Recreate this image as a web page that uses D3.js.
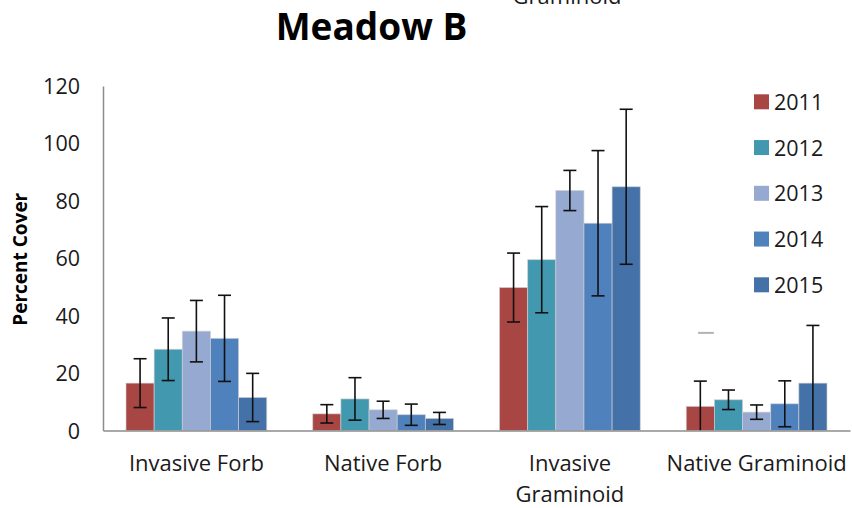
<!DOCTYPE html>
<html><head><meta charset="utf-8">
<script src="https://cdn.jsdelivr.net/npm/d3@7"></script>
<style>
body{margin:0;background:#fff}
svg text{font-family:"Open Sans",sans-serif;fill:#1a1a1a}
</style>
</head><body>
<svg id="chart" width="852" height="508"></svg>
<script>
// ---- data ----
const categories = ["Invasive Forb", "Native Forb", "Invasive Graminoid", "Native Graminoid"];
const categoryLines = [["Invasive Forb"], ["Native Forb"], ["Invasive", "Graminoid"], ["Native Graminoid"]];
const years = ["2011", "2012", "2013", "2014", "2015"];
const values2011 = [16.5, 5.8, 49.8, 8.4];
const values2012 = [28.3, 11.0, 59.5, 10.7];
const values2013 = [34.6, 7.2, 83.6, 6.4];
const values2014 = [32.1, 5.5, 72.2, 9.3];
const values2015 = [11.5, 4.2, 84.9, 16.5];
const errors2011 = [8.5, 3.2, 12.0, 8.8];
const errors2012 = [10.9, 7.4, 18.5, 3.4];
const errors2013 = [10.7, 3.0, 7.0, 2.5];
const errors2014 = [15.0, 3.7, 25.3, 8.0];
const errors2015 = [8.4, 2.1, 27.0, 20.1];
const yTicks = [0, 20, 40, 60, 80, 100, 120];
const strayMarks = [{category: "Native Graminoid", year: "2011", value: 34}];
const chartTitle = "Meadow B";
const headerFragment = "Graminoid";
const yTitle = "Percent Cover";

const colors = ["#A84644", "#4298AF", "#95A9D1", "#4F81BD", "#4472A8"];

(function () {
const allValues = [values2011, values2012, values2013, values2014, values2015];
const allErrors = [errors2011, errors2012, errors2013, errors2014, errors2015];
const rows = [];
categories.forEach((c, ci) => years.forEach((yr, yi) => rows.push({
  category: c, year: yr, value: allValues[yi][ci], error: allErrors[yi][ci]
})));

// ---- layout ----
const svg = d3.select("#chart");
const mLeft = 103, mRight = 850, mTop = 86, mBottom = 430.5;

const x0 = d3.scaleBand().domain(categories).range([mLeft, mRight]).padding(0);
const groupPad = 23;
const x1 = d3.scaleBand().domain(years).range([groupPad, x0.bandwidth() - groupPad]).padding(0);
const y = d3.scaleLinear().domain([0, 120]).range([mBottom, mTop]);
const color = d3.scaleOrdinal().domain(years).range(colors);

// header fragment (cut off at top, as in the source image)
svg.append("text").attr("x", 567).attr("y", 4).attr("text-anchor", "middle")
  .style("font-size", "22px").text(headerFragment);

// title
svg.append("text").attr("x", 371.5).attr("y", 39.5).attr("text-anchor", "middle")
  .style("font-size", "37px").style("font-weight", "700").style("fill", "#000")
  .text(chartTitle);

// y-axis title
svg.append("text")
  .attr("transform", `translate(26.5,${(mTop + mBottom) / 2 + 1}) rotate(-90)`)
  .attr("text-anchor", "middle")
  .style("font-size", "19px").style("font-weight", "700").style("fill", "#000")
  .text(yTitle);

// bars
svg.append("g").selectAll("rect").data(rows).join("rect")
  .attr("x", d => x0(d.category) + x1(d.year))
  .attr("y", d => y(d.value))
  .attr("width", x1.bandwidth())
  .attr("height", d => y(0) - y(d.value))
  .attr("fill", d => color(d.year))
  .attr("stroke", "#cfcfcf").attr("stroke-width", 0.8).attr("stroke-opacity", 0.8);

// error bars
const capHalf = 6.5;
const eg = svg.append("g").attr("stroke", "#111").attr("stroke-width", 1.6);
rows.forEach(d => {
  const cx = x0(d.category) + x1(d.year) + x1.bandwidth() / 2;
  const hi = d.value + d.error;
  const lo = Math.max(0, d.value - d.error);
  eg.append("line").attr("x1", cx).attr("x2", cx).attr("y1", y(hi)).attr("y2", y(lo));
  eg.append("line").attr("x1", cx - capHalf).attr("x2", cx + capHalf).attr("y1", y(hi)).attr("y2", y(hi));
  if (d.value - d.error >= 0) {
    eg.append("line").attr("x1", cx - capHalf).attr("x2", cx + capHalf).attr("y1", y(lo)).attr("y2", y(lo));
  }
});

// stray mark
svg.append("g").selectAll("line").data(strayMarks).join("line")
  .attr("x1", d => x0(d.category) + x1(d.year) + x1.bandwidth() * 0.42)
  .attr("x2", d => x0(d.category) + x1(d.year) + x1.bandwidth() * 0.98)
  .attr("y1", d => y(d.value)).attr("y2", d => y(d.value))
  .attr("stroke", "#b3b3b3").attr("stroke-width", 2);

// y axis
const yAxis = svg.append("g").attr("transform", `translate(${mLeft},0)`)
  .call(d3.axisLeft(y).tickValues(yTicks).tickSize(0).tickPadding(23));
yAxis.select(".domain").attr("stroke", "#8c8c8c").attr("stroke-width", 1.5);
yAxis.selectAll("text").style("font-size", "21.5px").style("font-family", '"Open Sans",sans-serif')
  .attr("fill", "#1a1a1a").attr("dy", "0.35em");

// x axis (baseline only)
const xAxis = svg.append("g").attr("transform", `translate(0,${mBottom})`)
  .call(d3.axisBottom(x0).tickSize(0).tickFormat(""));
xAxis.select(".domain").attr("stroke", "#8c8c8c").attr("stroke-width", 1.5);

// category labels
const labG = svg.append("g");
categories.forEach((c, i) => {
  const cx = x0(c) + x0.bandwidth() / 2;
  const t = labG.append("text").attr("text-anchor", "middle").style("font-size", "22px");
  categoryLines[i].forEach((line, li) => {
    t.append("tspan").attr("x", cx).attr("y", 471 + li * 30.5).text(line);
  });
});

// legend
const lg = svg.append("g");
years.forEach((yr, i) => {
  const cy = 101.8 + i * 45.75;
  lg.append("rect").attr("x", 754).attr("y", cy - 7.5).attr("width", 15).attr("height", 15)
    .attr("fill", color(yr));
  lg.append("text").attr("x", 774).attr("y", cy + 8).style("font-size", "21.5px").text(yr);
});
})();
</script>
</body></html>
